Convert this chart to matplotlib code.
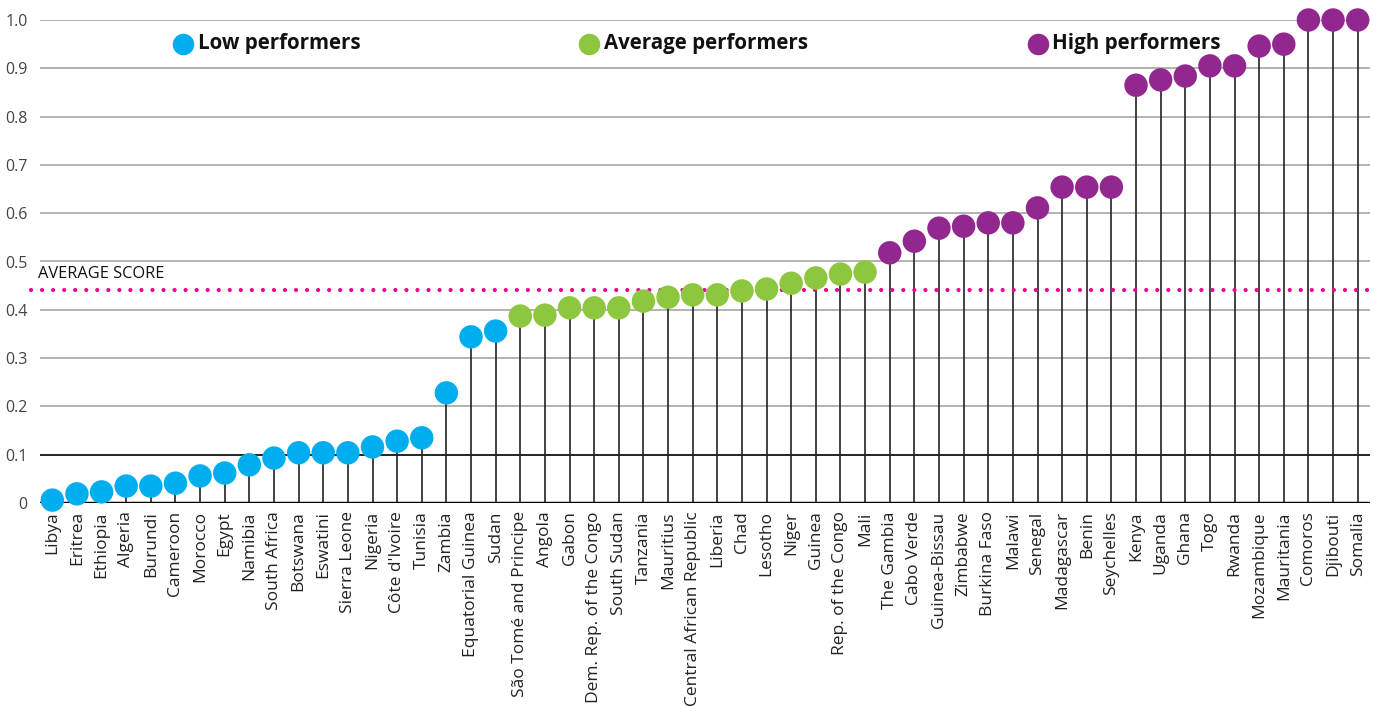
import matplotlib.pyplot as plt
import numpy as np

plt.rcParams['font.family'] = ['Open Sans', 'DejaVu Sans']

# datos
countries = ['Libya', 'Eritrea', 'Ethiopia', 'Algeria', 'Burundi', 'Cameroon', 'Morocco', 'Egypt',
             'Namibia', 'South Africa', 'Botswana', 'Eswatini', 'Sierra Leone', 'Nigeria',
             "Côte d'Ivoire", 'Tunisia', 'Zambia', 'Equatorial Guinea', 'Sudan',
             'São Tomé and Principe', 'Angola', 'Gabon', 'Dem. Rep. of the Congo', 'South Sudan',
             'Tanzania', 'Mauritius', 'Central African Republic', 'Liberia', 'Chad', 'Lesotho',
             'Niger', 'Guinea', 'Rep. of the Congo', 'Mali', 'The Gambia', 'Cabo Verde',
             'Guinea-Bissau', 'Zimbabwe', 'Burkina Faso', 'Malawi', 'Senegal', 'Madagascar',
             'Benin', 'Seychelles', 'Kenya', 'Uganda', 'Ghana', 'Togo', 'Rwanda', 'Mozambique',
             'Mauritania', 'Comoros', 'Djibouti', 'Somalia']
scores = [0.006, 0.019, 0.023, 0.035, 0.035, 0.041, 0.056, 0.062, 0.079, 0.093, 0.104, 0.104,
          0.104, 0.116, 0.128, 0.135, 0.228, 0.344, 0.356, 0.387, 0.389, 0.404, 0.404, 0.404,
          0.418, 0.426, 0.431, 0.431, 0.439, 0.443, 0.455, 0.466, 0.474, 0.478, 0.518, 0.542,
          0.569, 0.573, 0.580, 0.580, 0.611, 0.654, 0.654, 0.654, 0.865, 0.876, 0.884, 0.905,
          0.905, 0.946, 0.950, 1.0, 1.0, 1.0]
groups = ['low'] * 19 + ['avg'] * 15 + ['high'] * 20
average_score = 0.441

colors = {'low': '#00AEEF', 'avg': '#8DC63F', 'high': '#92278F'}
legend_labels = {'low': 'Low performers', 'avg': 'Average performers', 'high': 'High performers'}

fig = plt.figure(figsize=(13.78, 7.2), dpi=100)
ax = fig.add_axes([40 / 1378, 1 - 503 / 720, 1330 / 1378, 483 / 720])

x = np.arange(len(countries))

# lineas de grilla
for y in np.arange(0.2, 1.01, 0.1):
    ax.axhline(y, color='#A6A6A6', lw=1.2, zorder=0)
ax.axhline(0.1, color='black', lw=1.2, zorder=0)
ax.axhline(0, color='black', lw=2.5, zorder=3)

# palitos
ax.vlines(x, 0, scores, color='#222222', lw=1.2, zorder=1)

# puntos
pt_colors = [colors[g] for g in groups]
ax.scatter(x, scores, s=285, c=pt_colors, zorder=4, clip_on=False, linewidths=0)

# linea de promedio
ax.plot([-0.85, 53.5], [average_score, average_score], color='#EC008C', lw=3,
        linestyle=(0, (0.01, 2.64)), dash_capstyle='round', clip_on=False, zorder=2)
ax.text(-0.6, average_score + 0.016, 'AVERAGE SCORE', fontsize=11.8, color='#111111',
        va='bottom', ha='left')

# leyenda
legend_x = [5.3, 21.8, 40.0]
for k, lx in zip(['low', 'avg', 'high'], legend_x):
    ax.scatter([lx], [0.951], s=240, c=colors[k], linewidths=0, zorder=5)
    ax.text(lx + 0.6, 0.951, legend_labels[k], fontsize=14.8, fontweight='bold',
            color='#111111', va='center', ha='left')

ax.set_xlim(-0.5, 53.5)
ax.set_ylim(0, 1.0)
ax.set_xticks(x)
ax.set_xticklabels(countries, rotation=90, fontsize=12.5, color='#222222')
ax.set_yticks(np.arange(0, 1.01, 0.1))
ax.set_yticklabels(['0'] + ['%.1f' % v for v in np.arange(0.1, 1.01, 0.1)], fontsize=11.5,
                   color='#444444')
ax.tick_params(length=0, axis='both')
ax.tick_params(axis='x', pad=6)
ax.tick_params(axis='y', pad=9)
for s in ax.spines.values():
    s.set_visible(False)

plt.savefig('out.png', dpi=100)
